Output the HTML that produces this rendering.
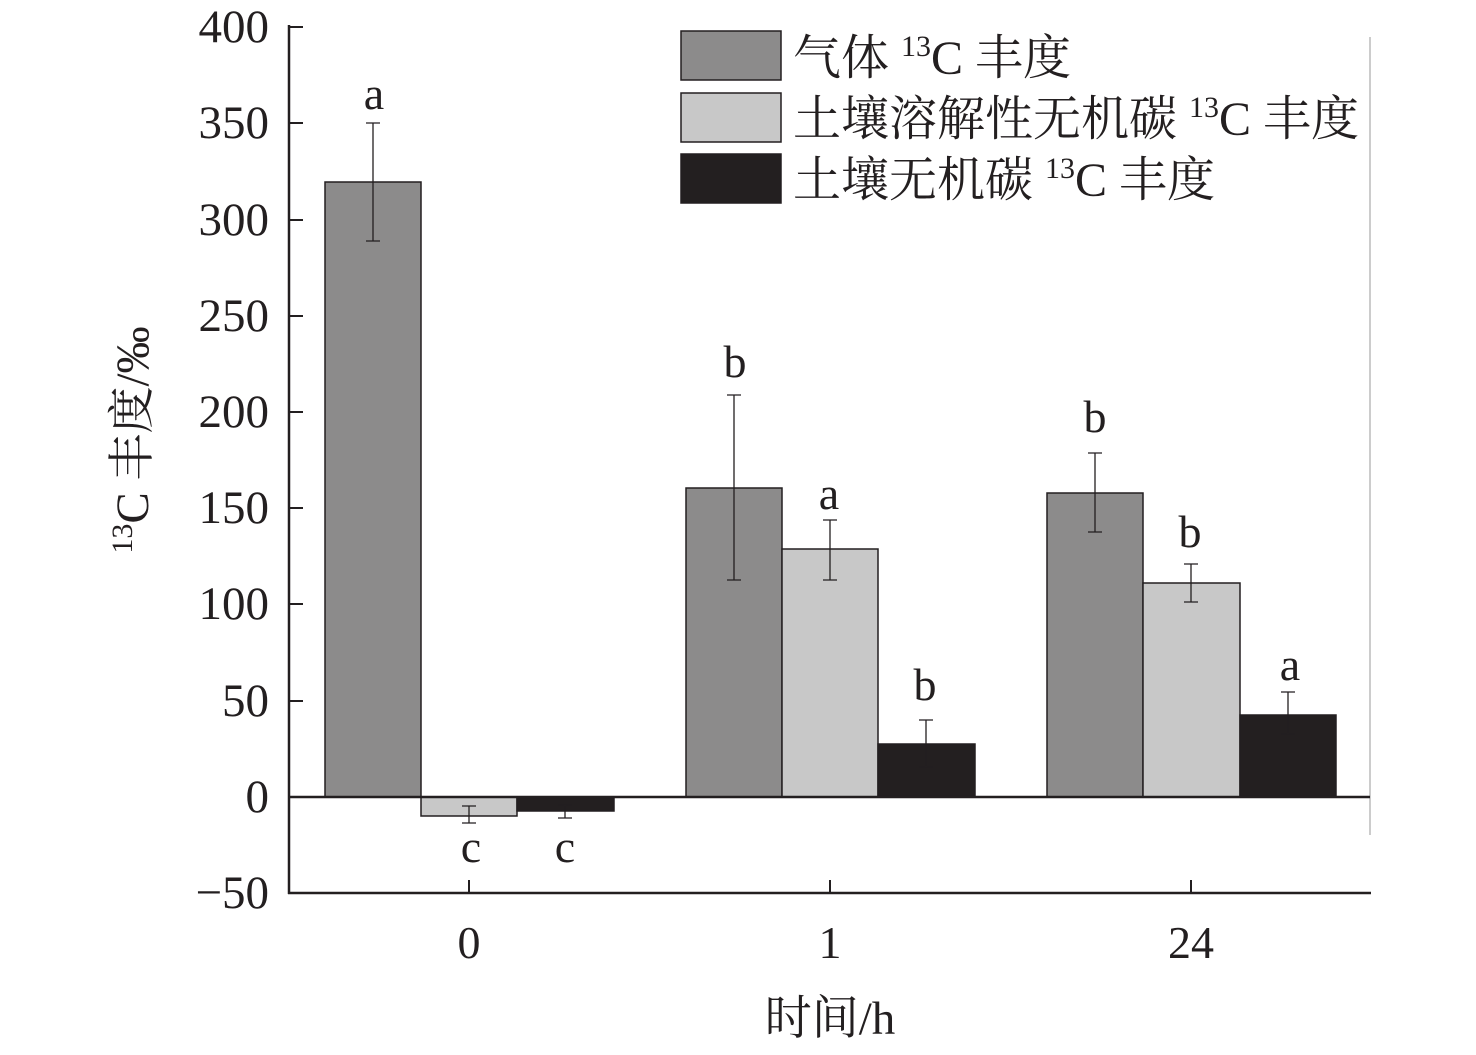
<!DOCTYPE html>
<html><head><meta charset="utf-8"><style>
body{margin:0;background:#fff}
svg text{font-family:"Liberation Serif","Noto Serif CJK SC",serif;fill:#231f20}
</style></head><body>
<svg width="1476" height="1050" viewBox="0 0 1476 1050" xmlns="http://www.w3.org/2000/svg">
<rect width="1476" height="1050" fill="#fff"/>
<line x1="1370" y1="37" x2="1370" y2="835" stroke="#bbb" stroke-width="1.5"/>
<g stroke="#231f20" stroke-width="1.5">
<rect x="325" y="182" width="96" height="615" fill="#8c8b8b"/>
<rect x="421" y="797" width="96" height="19" fill="#c8c8c8"/>
<rect x="517" y="797" width="97" height="14" fill="#231f20"/>
<rect x="686" y="488" width="96" height="309" fill="#8c8b8b"/>
<rect x="782" y="549" width="96" height="248" fill="#c8c8c8"/>
<rect x="878" y="744" width="97" height="53" fill="#231f20"/>
<rect x="1047" y="493" width="96" height="304" fill="#8c8b8b"/>
<rect x="1143" y="583" width="97" height="214" fill="#c8c8c8"/>
<rect x="1240" y="715" width="96" height="82" fill="#231f20"/>
</g>
<g stroke="#231f20" stroke-width="1.3" fill="none">
<path d="M373 123V241M366 123H380M366 241H380"/>
<path d="M469 806V823M462 806H476M462 823H476"/>
<path d="M565 805V818M558 805H572M558 818H572"/>
<path d="M734 395V580M727 395H741M727 580H741"/>
<path d="M830 520V580M823 520H837M823 580H837"/>
<path d="M926 720V767M919 720H933M919 767H933"/>
<path d="M1095 453V532M1088 453H1102M1088 532H1102"/>
<path d="M1191 564V602M1184 564H1198M1184 602H1198"/>
<path d="M1288 692V734M1281 692H1295M1281 734H1295"/>
</g>
<g stroke="#231f20" stroke-width="2.5">
<line x1="289" y1="25" x2="289" y2="894"/>
<line x1="288" y1="893" x2="1371" y2="893"/>
<line x1="289" y1="797" x2="1370" y2="797"/>
</g>
<g stroke="#231f20" stroke-width="2">
<path d="M289 27H303M289 123H303M289 220H303M289 316H303M289 412H303M289 508H303M289 604H303M289 701H303M289 893H303"/>
<path d="M469 880V893M830 880V893M1191 880V893"/>
</g>
<g font-size="47" text-anchor="end">
<text x="269" y="42">400</text><text x="269" y="138">350</text><text x="269" y="235">300</text>
<text x="269" y="331">250</text><text x="269" y="427">200</text><text x="269" y="523">150</text>
<text x="269" y="619">100</text><text x="269" y="716">50</text><text x="269" y="812">0</text>
<text x="269" y="908">−50</text>
</g>
<g font-size="46" text-anchor="middle">
<text x="469" y="958">0</text><text x="830" y="958">1</text><text x="1191" y="958">24</text>
<text x="374" y="109">a</text><text x="471" y="862">c</text><text x="565" y="862">c</text>
<text x="735" y="377">b</text><text x="829" y="509">a</text><text x="925" y="700">b</text>
<text x="1095" y="432">b</text><text x="1190" y="547">b</text><text x="1290" y="680">a</text>
<text x="830" y="1034" font-size="47">时间/h</text>
</g>
<text transform="translate(148,440) rotate(-90)" font-size="47" text-anchor="middle"><tspan font-size="30" dy="-16">13</tspan><tspan dy="16">C 丰度/‰</tspan></text>
<g stroke="#231f20" stroke-width="1.5">
<rect x="681" y="31" width="100" height="49" fill="#8c8b8b"/>
<rect x="681" y="93" width="100" height="49" fill="#c8c8c8"/>
<rect x="681" y="154" width="100" height="49" fill="#231f20"/>
</g>
<g font-size="48">
<text x="793" y="74">气体 <tspan font-size="30" dy="-18">13</tspan><tspan dy="18">C 丰度</tspan></text>
<text x="793" y="135">土壤溶解性无机碳 <tspan font-size="30" dy="-18">13</tspan><tspan dy="18">C 丰度</tspan></text>
<text x="793" y="196">土壤无机碳 <tspan font-size="30" dy="-18">13</tspan><tspan dy="18">C 丰度</tspan></text>
</g>
</svg>
</body></html>
